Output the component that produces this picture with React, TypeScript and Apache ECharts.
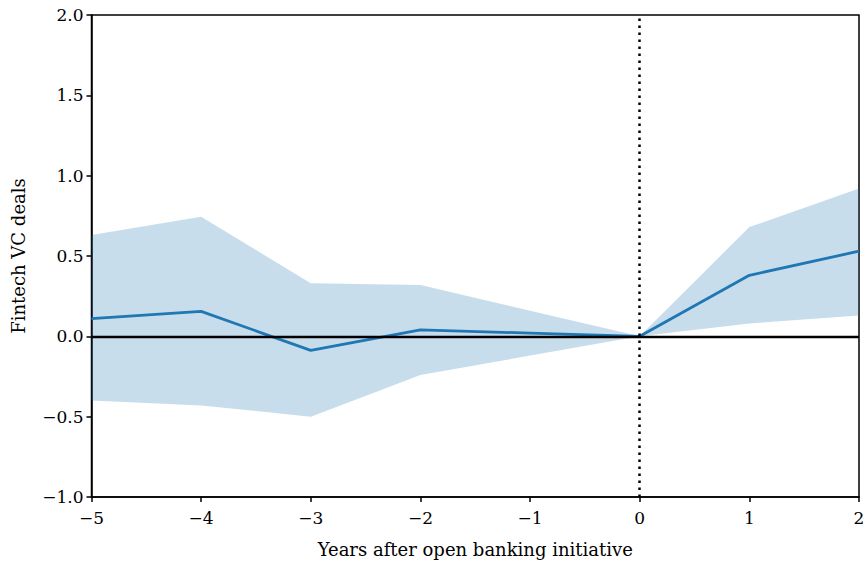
import React, { useEffect, useRef } from "react";
import * as echarts from "echarts";

const years = [-5, -4, -3, -2, -1, 0, 1, 2];
const estimate = [0.11, 0.155, -0.087, 0.04, 0.02, 0.0, 0.38, 0.53];
const upper = [0.63, 0.745, 0.33, 0.32, 0.16, 0.0, 0.68, 0.92];
const lower = [-0.4, -0.43, -0.5, -0.24, -0.12, 0.0, 0.08, 0.13];
const xLabel = "Years after open banking initiative";
const yLabel = "Fintech VC deals";

const FONT = "DejaVu Serif";
const fmtMinus = (s: string) => s.replace("-", "\u2212");

export default function App() {
  const ref = useRef<HTMLDivElement>(null);
  useEffect(() => {
    if (!ref.current) return;
    const chart = echarts.init(ref.current, null, { renderer: "svg" });
    const bandData = years.map((x, i) => [x, lower[i], upper[i]]);
    const estData = years.map((x, i) => [x, estimate[i]]);
    chart.setOption({
      animation: false,
      textStyle: { fontFamily: FONT },
      grid: {
        left: 91.5,
        right: 9,
        top: 15,
        bottom: 65.5,
        show: true,
        borderColor: "#000",
        borderWidth: 1.5,
        backgroundColor: "transparent",
      },
      xAxis: {
        type: "value",
        min: -5,
        max: 2,
        interval: 1,
        name: xLabel,
        nameLocation: "middle",
        nameGap: 43,
        nameTextStyle: { fontFamily: FONT, fontSize: 18, color: "#000" },
        axisLine: { show: true, onZero: false, lineStyle: { color: "#000", width: 1.5 } },
        axisTick: { show: true, length: 5, lineStyle: { color: "#000", width: 1.5 } },
        axisLabel: {
          color: "#000",
          fontFamily: FONT,
          fontSize: 17,
          margin: 12,
          formatter: (v: number) => fmtMinus(String(v)),
        },
        splitLine: { show: false },
      },
      yAxis: {
        type: "value",
        min: -1,
        max: 2,
        interval: 0.5,
        name: yLabel,
        nameLocation: "middle",
        nameGap: 64,
        nameRotate: 90,
        nameTextStyle: { fontFamily: FONT, fontSize: 18, color: "#000" },
        axisLine: { show: true, onZero: false, lineStyle: { color: "#000", width: 1.5 } },
        axisTick: { show: true, length: 5, lineStyle: { color: "#000", width: 1.5 } },
        axisLabel: {
          color: "#000",
          fontFamily: FONT,
          fontSize: 17,
          margin: 8,
          formatter: (v: number) => fmtMinus(v.toFixed(1)),
        },
        splitLine: { show: false },
      },
      series: [
        {
          type: "custom",
          data: bandData,
          silent: true,
          z: 1,
          renderItem: (params: any, api: any) => {
            if (params.dataIndex !== 0) return null;
            const top = bandData.map((d) => api.coord([d[0], d[2]]));
            const bot = bandData.map((d) => api.coord([d[0], d[1]])).reverse();
            return {
              type: "polygon",
              shape: { points: top.concat(bot) },
              style: { fill: "rgba(31,119,180,0.25)", stroke: "none" },
            };
          },
        },
        {
          type: "line",
          data: estData,
          symbol: "none",
          lineStyle: { color: "#1f77b4", width: 2.8 },
          z: 3,
          markLine: {
            silent: true,
            symbol: "none",
            label: { show: false },
            data: [
              { yAxis: 0, lineStyle: { color: "#000", width: 2.3, type: "solid" } },
              { xAxis: 0, lineStyle: { color: "#000", width: 2.5, type: [2.5, 4.5] } },
            ],
          },
        },
      ],
    });
    return () => chart.dispose();
  }, []);
  return <div ref={ref} style={{ width: 868, height: 563, position: "absolute", left: 0, top: 0 }} />;
}
